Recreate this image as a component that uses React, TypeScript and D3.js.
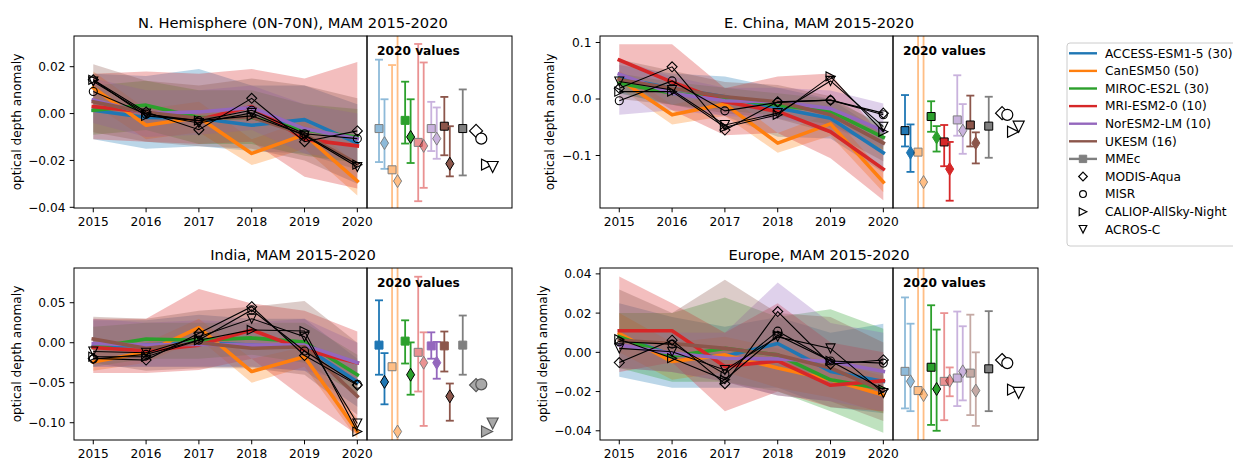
import React from 'react';
import * as d3 from 'd3';

const YEARS = [2015, 2016, 2017, 2018, 2019, 2020];
const MODELS = ['ACCESS-ESM1-5 (30)', 'CanESM50 (50)', 'MIROC-ES2L (30)', 'MRI-ESM2-0 (10)', 'NorESM2-LM (10)', 'UKESM (16)'];
const COLORS = ['#1f77b4', '#ff7f0e', '#2ca02c', '#d62728', '#9467bd', '#8c564b'];
const MME_LABEL = 'MMEc';
const MME_COLOR = '#7f7f7f';
const OBS = ['MODIS-Aqua', 'MISR', 'CALIOP-AllSky-Night', 'ACROS-C'];
const OBS_SHAPES = ['D', 'o', '>', 'v'];

// marker style codes for the 2020 inset: 0 faded, 1 solid, 2 solid + black edge

// N. Hemisphere
const nhTicks = [0.02, 0, -0.02, -0.04];
const nhMean = [
  [0.0014, -0.0017, -0.002, -0.005, -0.0026, -0.0126],
  [0.011, -0.005, -0.0017, -0.017, -0.009, -0.0288],
  [0.0014, 0.0036, -0.0017, -0.0017, -0.007, -0.010],
  [0.003, 0.0007, -0.0026, 0.003, -0.011, -0.0138],
  [0.0058, 0.0, 0.0007, 0.0026, -0.0065, -0.0107],
  [0.005, 0.0005, -0.002, -0.0015, -0.009, -0.0214],
];
const nhLo = [
  [-0.011, -0.015, -0.014, -0.016, -0.017, -0.024],
  [0.004, -0.011, -0.008, -0.022, -0.015, -0.035],
  [-0.009, -0.007, -0.013, -0.013, -0.018, -0.021],
  [-0.011, -0.012, -0.013, -0.012, -0.027, -0.032],
  [-0.004, -0.010, -0.009, -0.007, -0.017, -0.020],
  [-0.008, -0.012, -0.014, -0.015, -0.020, -0.030],
];
const nhHi = [
  [0.017, 0.016, 0.019, 0.012, 0.012, 0.004],
  [0.018, 0.002, 0.005, -0.011, -0.003, -0.022],
  [0.012, 0.014, 0.010, 0.010, 0.004, 0.002],
  [0.017, 0.018, 0.017, 0.019, 0.015, 0.022],
  [0.015, 0.010, 0.010, 0.012, 0.004, 0.000],
  [0.021, 0.014, 0.012, 0.015, 0.012, 0.0065],
];
const nhObs = [
  [0.0144, 0.0007, -0.0069, 0.0065, -0.012, -0.0074],
  [0.0094, -0.0003, -0.003, 0.0014, -0.0086, -0.0107],
  [0.0144, -0.001, -0.003, -0.001, -0.009, -0.0218],
  [0.0137, 0.0, -0.004, 0.0003, -0.0094, -0.0228],
];
const nhSq = [
  [-0.0064, -0.0207, 0.023],
  [-0.024, -0.069, 0.0207],
  [-0.0029, -0.0128, 0.0136],
  [-0.0123, -0.0374, 0.0297],
  [-0.0064, -0.016, 0.005],
  [-0.0054, -0.0178, 0.0071],
];
const nhSqStyle = [0, 0, 1, 0, 0, 2];
const nhDia = [[-0.0236, 0.0061], [-1, 1], [-0.0211, 0.0061], [-0.0317, 0.0218], [-0.0193, 0.0026], [-0.0268, -0.0054]];
const nhDiaStyle = [0, 0, 2, 0, 0, 2];
const nhMme = [-0.0064, -0.0264, 0.0103];

// E. China
const ecTicks = [0.1, 0, -0.1];
const ecMean = [
  [0.037, 0.019, 0.004, -0.016, -0.034, -0.095],
  [0.035, -0.028, -0.009, -0.078, -0.044, -0.147],
  [0.028, 0.010, 0.001, -0.011, -0.022, -0.068],
  [0.069, 0.030, -0.005, -0.022, -0.058, -0.124],
  [0.044, 0.010, -0.003, -0.005, -0.017, -0.056],
  [0.034, 0.019, 0.004, -0.005, -0.028, -0.078],
];
const ecLo = [
  [0.01, -0.01, -0.03, -0.067, -0.07, -0.13],
  [0.02, -0.045, -0.03, -0.095, -0.065, -0.165],
  [0.01, -0.01, -0.02, -0.03, -0.045, -0.09],
  [0.04, -0.02, -0.064, -0.06, -0.105, -0.179],
  [-0.028, -0.02, -0.03, -0.035, -0.05, -0.085],
  [0.0, -0.01, -0.025, -0.035, -0.06, -0.11],
];
const ecHi = [
  [0.06, 0.045, 0.04, 0.02, 0.0, -0.06],
  [0.05, -0.01, 0.01, -0.06, -0.025, -0.13],
  [0.045, 0.03, 0.02, 0.01, 0.0, -0.045],
  [0.097, 0.097, 0.019, 0.04, 0.045, -0.07],
  [0.07, 0.04, 0.02, 0.02, 0.015, -0.008],
  [0.07, 0.05, 0.03, 0.025, 0.005, -0.05],
];
const ecObs = [
  [0.019, 0.057, -0.055, -0.005, -0.002, -0.025],
  [-0.003, 0.032, -0.021, -0.006, -0.002, -0.028],
  [0.013, 0.013, -0.050, -0.028, 0.040, -0.058],
  [0.031, 0.016, -0.046, -0.025, 0.032, -0.049],
];
const ecSq = [
  [-0.056, -0.084, 0.007],
  [-0.094, -1, 1],
  [-0.031, -0.058, -0.004],
  [-0.076, -0.119, -0.046],
  [-0.037, -0.065, 0.042],
  [-0.046, -0.084, 0.006],
];
const ecSqStyle = [2, 0, 2, 2, 0, 2];
const ecDia = [[-0.129, -0.045], [-1, 1], [-0.093, -0.048], [-0.18, -0.076], [-0.097, -0.009], [-0.114, -0.059]];
const ecDiaStyle = [1, 0, 1, 1, 0, 1];
const ecMme = [-0.048, -0.104, 0.004];

// India
const inTicks = [0.05, 0, -0.05, -0.1];
const inMean = [
  [-0.005, -0.003, 0.0, -0.003, -0.005, -0.049],
  [-0.024, -0.012, 0.019, -0.036, -0.0175, -0.111],
  [-0.006, 0.0046, 0.003, 0.006, 0.001, -0.040],
  [-0.006, -0.010, -0.003, 0.016, -0.009, -0.025],
  [-0.001, -0.003, -0.002, -0.003, -0.003, -0.025],
  [0.0046, -0.007, 0.0, -0.007, -0.005, -0.067],
];
const inLo = [
  [-0.03, -0.03, -0.03, -0.03, -0.035, -0.08],
  [-0.035, -0.025, 0.005, -0.05, -0.03, -0.12],
  [-0.03, -0.02, -0.02, -0.015, -0.025, -0.065],
  [-0.038, -0.038, -0.034, -0.02, -0.07, -0.115],
  [-0.03, -0.03, -0.03, -0.03, -0.035, -0.05],
  [-0.025, -0.035, -0.032, -0.032, -0.04, -0.09],
];
const inHi = [
  [0.028, 0.028, 0.035, 0.03, 0.03, -0.02],
  [-0.01, 0.0, 0.03, -0.02, -0.005, -0.095],
  [0.02, 0.025, 0.025, 0.025, 0.025, -0.015],
  [0.03, 0.03, 0.067, 0.049, 0.04, 0.014],
  [0.03, 0.025, 0.028, 0.025, 0.03, 0.0],
  [0.0325, 0.03, 0.04, 0.045, 0.052, 0.0],
];
const inObs = [
  [-0.0196, -0.0217, 0.0117, 0.045, -0.016, -0.053],
  [-0.0204, -0.0146, 0.0033, 0.041, -0.0104, -0.052],
  [-0.0175, -0.0175, 0.003, 0.016, 0.0146, -0.111],
  [-0.011, -0.0125, 0.0075, 0.030, 0.0075, -0.101],
];
const inSq = [
  [-0.003, -0.040, 0.053],
  [-0.030, -1, 1],
  [0.002, -0.026, 0.028],
  [-0.012, -0.061, 0.0825],
  [-0.004, -0.020, 0.013],
  [-0.004, -0.036, 0.014],
];
const inSqStyle = [1, 0, 1, 0, 1, 1];
const inDia = [[-0.077, -0.013], [-1, 1], [-0.065, 0.0004], [-0.104, 0.013], [-0.045, 0.001], [-0.0975, -0.051]];
const inDiaStyle = [2, 0, 2, 0, 1, 2];
const inMme = [-0.003, -0.040, 0.034];

// Europe
const euTicks = [0.04, 0.02, 0, -0.02, -0.04];
const euMean = [
  [0.008, -0.0013, -0.002, 0.0045, -0.0097, -0.0148],
  [0.0096, -0.0047, -0.0013, -0.008, -0.014, -0.0218],
  [0.008, -0.002, 0.002, -0.0013, -0.014, -0.0187],
  [0.011, 0.011, -0.0072, -0.0044, -0.0168, -0.0145],
  [0.0037, -0.0005, -0.003, -0.0034, -0.0047, -0.0097],
  [0.0062, 0.0045, 0.002, -0.0013, -0.008, -0.0195],
];
const euLo = [
  [-0.0125, -0.018, -0.018, -0.018, -0.028, -0.031],
  [0.0, -0.014, -0.01, -0.018, -0.023, -0.031],
  [-0.008, -0.015, -0.015, -0.02, -0.03, -0.041],
  [-0.01, -0.005, -0.030, -0.02, -0.028, -0.03],
  [-0.008, -0.01, -0.015, -0.022, -0.025, -0.03],
  [-0.008, -0.01, -0.015, -0.022, -0.025, -0.035],
];
const euHi = [
  [0.025, 0.018, 0.013, 0.018, 0.010, 0.0146],
  [0.02, 0.005, 0.008, 0.002, -0.005, -0.012],
  [0.02, 0.02, 0.028, 0.018, 0.022, 0.012],
  [0.0387, 0.025, 0.01, 0.025, 0.005, 0.0],
  [0.012, 0.01, 0.01, 0.0356, 0.015, 0.01],
  [0.032, 0.02, 0.037, 0.02, 0.018, 0.005],
];
const euObs = [
  [-0.0052, 0.0062, -0.016, 0.0208, -0.006, -0.0039],
  [0.0054, 0.0042, -0.011, 0.0108, -0.0044, -0.0055],
  [0.0067, -0.003, -0.014, 0.0087, -0.0044, -0.019],
  [0.002, 0.0003, -0.009, 0.0079, 0.002, -0.0207],
];
const euSq = [
  [-0.0097, -0.0286, 0.028],
  [-0.0195, -1, 1],
  [-0.0076, -0.037, 0.024],
  [-0.0148, -0.0346, 0.020],
  [-0.0131, -0.0274, 0.0208],
  [-0.0106, -0.032, 0.0192],
];
const euSqStyle = [0, 0, 2, 0, 0, 0];
const euDia = [[-0.030, 0.0146], [-1, 1], [-0.040, 0.0116], [-0.0224, -0.0077], [-0.0245, 0.0133], [-0.0375, 0.0]];
const euDiaStyle = [0, 0, 2, 0, 0, 0];
const euMme = [-0.0084, -0.030, 0.021];

const FONT = 'DejaVu Sans, sans-serif';
const LINE_W = 293;
const INSET_W = 145;
const AX_H = 172;

const PANELS = [
  { id: 'nh', title: 'N. Hemisphere (0N-70N), MAM 2015-2020', left: 74, top: 36, yDomain: [-0.0403, 0.0331], ticks: nhTicks, fmt: '.2f', mean: nhMean, lo: nhLo, hi: nhHi, obs: nhObs, sq: nhSq, sqStyle: nhSqStyle, dia: nhDia, diaStyle: nhDiaStyle, mme: nhMme, mmeStyle: 2, obsFill: '#ffffff', obsEdge: '#000', ylabX: 21 },
  { id: 'ec', title: 'E. China, MAM 2015-2020', left: 600, top: 36, yDomain: [-0.1929, 0.1115], ticks: ecTicks, fmt: '.1f', mean: ecMean, lo: ecLo, hi: ecHi, obs: ecObs, sq: ecSq, sqStyle: ecSqStyle, dia: ecDia, diaStyle: ecDiaStyle, mme: ecMme, mmeStyle: 2, obsFill: '#ffffff', obsEdge: '#000', ylabX: 554 },
  { id: 'in', title: 'India, MAM 2015-2020', left: 74, top: 268, yDomain: [-0.1216, 0.0934], ticks: inTicks, fmt: '.2f', mean: inMean, lo: inLo, hi: inHi, obs: inObs, sq: inSq, sqStyle: inSqStyle, dia: inDia, diaStyle: inDiaStyle, mme: inMme, mmeStyle: 1, obsFill: '#a8a8a8', obsEdge: '#555', ylabX: 21 },
  { id: 'eu', title: 'Europe, MAM 2015-2020', left: 600, top: 268, yDomain: [-0.0447, 0.0430], ticks: euTicks, fmt: '.2f', mean: euMean, lo: euLo, hi: euHi, obs: euObs, sq: euSq, sqStyle: euSqStyle, dia: euDia, diaStyle: euDiaStyle, mme: euMme, mmeStyle: 2, obsFill: '#ffffff', obsEdge: '#000', ylabX: 547 },
];

function markerPath(shape: string, cx: number, cy: number, r: number): string {
  switch (shape) {
    case 'D':
      return `M${cx},${cy - r}L${cx + r},${cy}L${cx},${cy + r}L${cx - r},${cy}Z`;
    case 'd':
      return `M${cx},${cy - r}L${cx + r * 0.62},${cy}L${cx},${cy + r}L${cx - r * 0.62},${cy}Z`;
    case 's':
      return `M${cx - r},${cy - r}H${cx + r}V${cy + r}H${cx - r}Z`;
    case 'o':
      return `M${cx - r},${cy}a${r},${r} 0 1,0 ${2 * r},0a${r},${r} 0 1,0 ${-2 * r},0Z`;
    case '>':
      return `M${cx + r},${cy}L${cx - r},${cy - r}L${cx - r},${cy + r}Z`;
    case 'v':
      return `M${cx},${cy + r}L${cx - r},${cy - r}L${cx + r},${cy - r}Z`;
    default:
      return '';
  }
}

function ErrBar({ x, yc, y0, y1, color, style, shape, r }: any) {
  const edge = style === 1 ? color : '#000';
  return (
    <g opacity={style === 0 ? 0.5 : 1}>
      <line x1={x} x2={x} y1={y0} y2={y1} stroke={color} strokeWidth={1.8} />
      <line x1={x - 4} x2={x + 4} y1={y0} y2={y0} stroke={color} strokeWidth={1.8} />
      <line x1={x - 4} x2={x + 4} y1={y1} y2={y1} stroke={color} strokeWidth={1.8} />
      <path d={markerPath(shape, x, yc, r)} fill={color} stroke={edge} strokeWidth={1} />
    </g>
  );
}

function Panel({ p }: { p: any }) {
  const x = d3.scaleLinear().domain([2014.635, 2020.183]).range([p.left, p.left + LINE_W]);
  const y = d3.scaleLinear().domain(p.yDomain).range([p.top + AX_H, p.top]);
  const insetLeft = p.left + LINE_W;
  const xi = d3.scaleLinear().domain([-0.919, 10.18]).range([insetLeft, insetLeft + INSET_W]);
  const bottom = p.top + AX_H;
  const fmt = d3.format(p.fmt);

  const line = d3.line<number>().x((_, i) => x(YEARS[i])).y((d) => y(d));
  const band = (lo: number[], hi: number[]) =>
    d3.area<number>().x((_, i) => x(YEARS[i])).y0((_, i) => y(lo[i])).y1((_, i) => y(hi[i]))(YEARS) || '';

  const obsX = [7.43, 7.83, 8.27, 8.7];
  const obsR = [6.5, 5.5, 5.5, 5.5];
  const lineObsR = [5, 4, 4.5, 4.5];

  return (
    <g>
      <defs>
        <clipPath id={`clip-${p.id}`}>
          <rect x={p.left} y={p.top} width={LINE_W} height={AX_H} />
        </clipPath>
        <clipPath id={`clipi-${p.id}`}>
          <rect x={insetLeft} y={p.top} width={INSET_W} height={AX_H} />
        </clipPath>
      </defs>
      <text x={p.left + (LINE_W + INSET_W) / 2} y={p.top - 8} textAnchor="middle" fontSize={14.7} fontFamily={FONT} fill="#000">
        {p.title}
      </text>

      <g clipPath={`url(#clip-${p.id})`}>
        {p.lo.map((lo: number[], m: number) => (
          <path key={`b${m}`} d={band(lo, p.hi[m])} fill={COLORS[m]} fillOpacity={0.3} stroke="none" />
        ))}
        {p.mean.map((s: number[], m: number) => (
          <path key={`l${m}`} d={line(s) || ''} fill="none" stroke={COLORS[m]} strokeWidth={3.6} strokeLinejoin="round" strokeLinecap="square" />
        ))}
        {p.obs.map((s: number[], k: number) => (
          <g key={`o${k}`}>
            <path d={line(s) || ''} fill="none" stroke="#000" strokeWidth={1.1} />
            {s.map((v, i) => (
              <path key={i} d={markerPath(OBS_SHAPES[k], x(YEARS[i]), y(v), lineObsR[k])} fill="none" stroke="#000" strokeWidth={1.1} />
            ))}
          </g>
        ))}
      </g>

      <g clipPath={`url(#clipi-${p.id})`}>
        {p.sq.map((s: number[], m: number) => (
          <g key={`e${m}`}>
            <ErrBar x={xi(m)} yc={y(s[0])} y0={y(s[1])} y1={y(s[2])} color={COLORS[m]} style={p.sqStyle[m]} shape="s" r={4} />
            <ErrBar x={xi(m + 0.42)} yc={y(p.mean[m][5])} y0={y(p.dia[m][0])} y1={y(p.dia[m][1])} color={COLORS[m]} style={p.diaStyle[m]} shape="d" r={6.5} />
          </g>
        ))}
        <ErrBar x={xi(6.41)} yc={y(p.mme[0])} y0={y(p.mme[1])} y1={y(p.mme[2])} color={MME_COLOR} style={p.mmeStyle} shape="s" r={4} />
        {p.obs.map((s: number[], k: number) => (
          <path key={`io${k}`} d={markerPath(OBS_SHAPES[k], xi(obsX[k]), y(s[5]), obsR[k])} fill={p.obsFill} stroke={p.obsEdge} strokeWidth={1.2} />
        ))}
      </g>
      <text x={insetLeft + 10} y={p.top + 18.5} fontSize={12.2} fontWeight="bold" fontFamily={FONT} fill="#000">2020 values</text>

      <rect x={p.left} y={p.top} width={LINE_W} height={AX_H} fill="none" stroke="#000" strokeWidth={1} />
      <rect x={insetLeft} y={p.top} width={INSET_W} height={AX_H} fill="none" stroke="#000" strokeWidth={1} />

      {p.ticks.map((t: number) => (
        <g key={`yt${t}`}>
          <line x1={p.left - 4.3} x2={p.left} y1={y(t)} y2={y(t)} stroke="#000" strokeWidth={1} />
          <text x={p.left - 8.5} y={y(t)} dy="0.36em" textAnchor="end" fontSize={12.2} fontFamily={FONT} fill="#000">{fmt(t)}</text>
        </g>
      ))}
      {YEARS.map((yr) => (
        <g key={`xt${yr}`}>
          <line x1={x(yr)} x2={x(yr)} y1={bottom} y2={bottom + 4.3} stroke="#000" strokeWidth={1} />
          <text x={x(yr)} y={bottom + 17.5} textAnchor="middle" fontSize={12.2} fontFamily={FONT} fill="#000">{yr}</text>
        </g>
      ))}
      <text transform={`translate(${p.ylabX},${p.top + AX_H / 2}) rotate(-90)`} textAnchor="middle" fontSize={12.2} fontFamily={FONT} fill="#000">
        optical depth anomaly
      </text>
    </g>
  );
}

function Legend() {
  const left = 1067;
  const top = 43;
  const rowY = (i: number) => 53.3 + i * 17.6;
  const hx0 = 1069;
  const hx1 = 1097;
  const hc = 1083;
  const textX = 1105;
  const legObsR = [4.3, 3.4, 3.8, 3.8];
  return (
    <g fontFamily={FONT} fontSize={12.2}>
      <rect x={left} y={top} width={180} height={203} rx={3} fill="#fff" fillOpacity={0.8} stroke="#cccccc" strokeWidth={1} />
      {MODELS.map((m, i) => (
        <g key={m}>
          <line x1={hx0} x2={hx1} y1={rowY(i)} y2={rowY(i)} stroke={COLORS[i]} strokeWidth={2.4} />
          <text x={textX} y={rowY(i)} dy="0.36em" fill="#000">{m}</text>
        </g>
      ))}
      <g>
        <line x1={hx0} x2={hx1} y1={rowY(6)} y2={rowY(6)} stroke={MME_COLOR} strokeWidth={2.4} />
        <path d={markerPath('s', hc, rowY(6), 3.7)} fill={MME_COLOR} stroke={MME_COLOR} />
        <text x={textX} y={rowY(6)} dy="0.36em" fill="#000">{MME_LABEL}</text>
      </g>
      {OBS.map((o, k) => (
        <g key={o}>
          <path d={markerPath(OBS_SHAPES[k], hc, rowY(7 + k), legObsR[k])} fill="none" stroke="#000" strokeWidth={1.2} />
          <text x={textX} y={rowY(7 + k)} dy="0.36em" fill="#000">{o}</text>
        </g>
      ))}
    </g>
  );
}

export default function App() {
  return (
    <svg width={1233} height={459} style={{ position: 'absolute', left: 0, top: 0, background: '#fff' }}>
      <rect x={0} y={0} width={1233} height={459} fill="#fff" />
      {PANELS.map((p) => (
        <Panel key={p.id} p={p} />
      ))}
      <Legend />
    </svg>
  );
}
